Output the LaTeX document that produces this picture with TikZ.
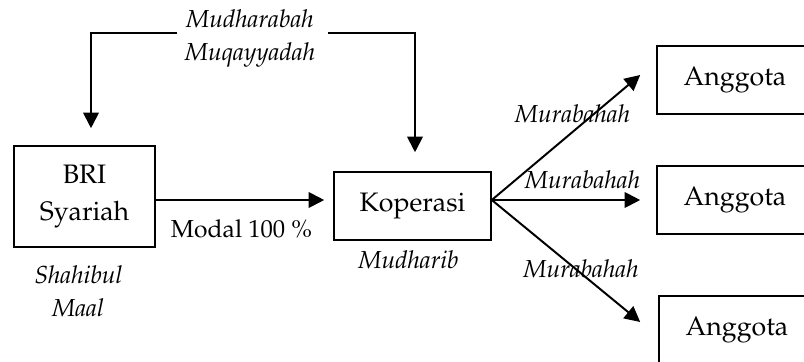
\documentclass[tikz,border=0pt]{standalone}
\usepackage[T1]{fontenc}
\usepackage{mathpazo}
\usetikzlibrary{arrows.meta}

\begin{document}
\begin{tikzpicture}[x=0.025cm,y=-0.025cm,->,>={Triangle[length=11pt,width=11pt]},line width=1.4pt,
  box node/.style={draw,rectangle,line width=1.1pt,minimum width=3.9cm,minimum height=1.7cm,inner sep=0pt,align=center,font=\fontsize{19}{26}\selectfont},
  label node/.style={anchor=base,inner sep=0pt,font=\fontsize{17.5}{23.5}\selectfont\itshape}]

            \useasboundingbox (0,0) rectangle (804,362);
            \clip (0,0) rectangle (804,362);

            \node[box node,minimum width=3.525cm,minimum height=2.525cm] (bri) at (84.5,196.5) {BRI\\Syariah};
            \node[box node,minimum width=3.925cm] (kop) at (412.5,206) {Koperasi};
            \node[box node] (ang1) at (735,80) {Anggota};
            \node[box node] (ang2) at (735,200) {Anggota};
            \node[box node] (ang3) at (737,330) {Anggota};

            \node[label node] (mud1) at (250,27) {Mudharabah};
            \node[label node] (mud2) at (250,60) {Muqayyadah};
            \node[label node] (shahibul) at (78.5,283) {Shahibul};
            \node[label node] (maal) at (78,316) {Maal};
            \node[label node] (mudharib) at (408.5,268) {Mudharib};
            \node[label node,font=\fontsize{17.5}{21}\selectfont] (modal) at (241.5,237) {Modal 100 \%};
            \node[label node] (murab1) at (572.5,122) {Murabahah};
            \node[label node] (murab2) at (582.5,188) {Murabahah};
            \node[label node] (murab3) at (581,277) {Murabahah};

            \coordinate (akad l) at (177,33);
            \coordinate (akad r) at (328,33);
            \coordinate (kop out) at ([yshift=0.15cm]kop.east);

            \draw[shorten >=0.425cm] (akad l) -| ([xshift=0.1625cm]bri.north);
            \draw[shorten >=0.475cm] (akad r) -| ([xshift=0.0625cm]kop.north);
            \draw[shorten >=0.225cm] ([yshift=-0.0875cm]bri.east) -- ([yshift=-0.0875cm]bri.east -| kop.west);

            \path
                (kop out) edge ([xshift=-0.4cm,yshift=0.125cm]ang1.west)
                (kop out) edge ([xshift=-0.4cm]ang2.west)
                (kop out) edge ([xshift=-0.45cm,yshift=0.2cm]ang3.west)
            ;
        \end{tikzpicture}
\end{document}
